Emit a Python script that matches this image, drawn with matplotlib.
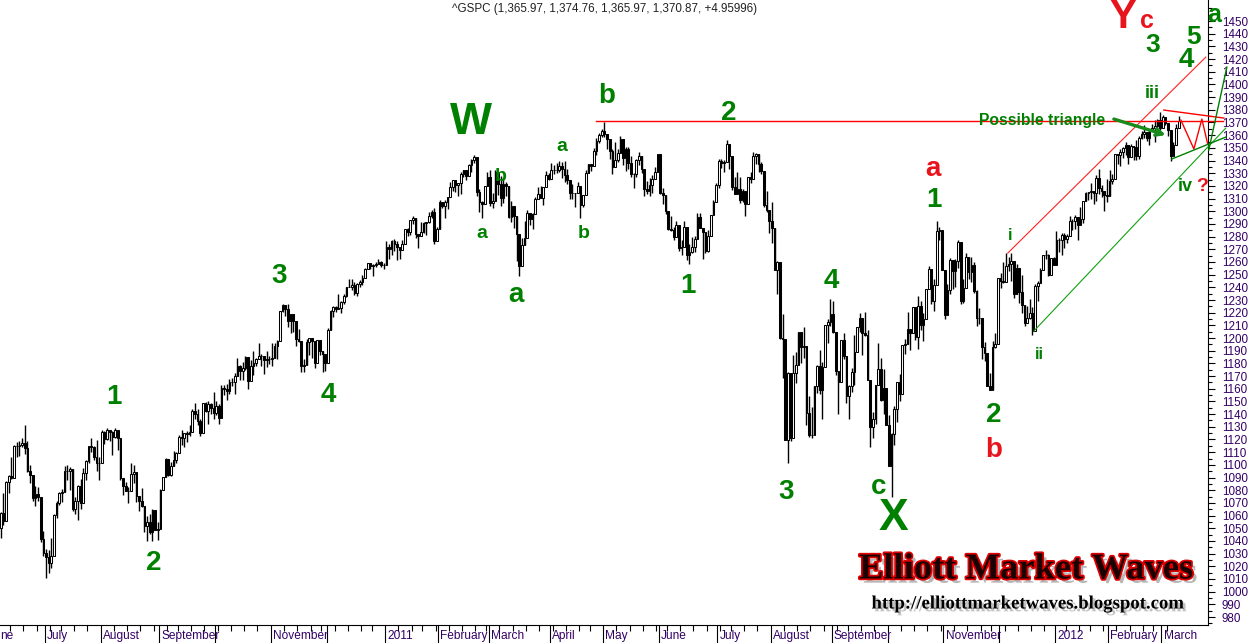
import matplotlib
matplotlib.use("Agg")
import matplotlib.pyplot as plt
import matplotlib.patheffects as pe
import matplotlib.transforms as mtransforms
import numpy as np
import pandas as pd

# ---------------- data: daily S&P 500 (^GSPC), (day, high, low, close) ----------------
first_open = 1050.47          # open of the first bar (previous close)
june_2010_days_before = 5     # trading days of June 2010 before the first bar

jun_2010 = [(8,1063.0,1042.2,1062.0),(9,1077.7,1052.3,1055.7),(10,1087.0,1058.0,1086.8),(11,1092.0,1077.6,1091.6),
            (14,1105.9,1089.0,1089.6),(15,1115.6,1089.6,1115.2),(16,1117.7,1105.9,1114.6),(17,1118.7,1107.1,1116.0),
            (18,1121.0,1113.9,1117.5),(21,1131.2,1108.2,1113.2),(22,1118.5,1094.2,1095.3),(23,1099.6,1085.3,1092.0),
            (24,1092.0,1071.7,1073.7),(25,1083.6,1067.9,1076.8),(28,1082.6,1071.5,1074.6),(29,1074.6,1038.9,1041.2),
            (30,1048.1,1028.3,1030.7)]
jul_2010 = [(1,1033.6,1010.9,1027.4),(2,1032.9,1015.0,1022.6),(6,1042.5,1018.4,1028.1),(7,1060.9,1028.3,1060.3),
            (8,1071.3,1058.2,1070.3),(9,1078.2,1068.0,1078.0),(12,1080.8,1070.5,1078.8),(13,1099.1,1078.8,1095.3),
            (14,1099.5,1087.7,1095.2),(15,1098.0,1080.5,1096.5),(16,1097.0,1063.6,1064.9),(19,1074.7,1061.1,1071.3),
            (20,1083.9,1056.9,1083.5),(21,1088.5,1065.3,1069.6),(22,1097.5,1069.6,1093.7),(23,1103.7,1087.9,1102.7),
            (26,1115.0,1101.2,1115.0),(27,1120.9,1109.8,1113.8),(28,1114.7,1103.9,1106.1),(29,1119.9,1095.2,1101.5),
            (30,1106.4,1088.0,1101.6)]
aug_2010 = [(2,1127.3,1101.6,1125.9),(3,1126.6,1116.1,1120.5),(4,1128.8,1119.5,1127.2),(5,1126.6,1118.8,1125.8),
            (6,1126.6,1107.4,1121.6),(9,1129.2,1120.9,1127.8),(10,1127.8,1111.6,1121.1),(11,1121.1,1088.0,1089.5),
            (12,1089.5,1076.6,1083.6),(13,1086.4,1079.0,1079.3),(16,1082.2,1069.6,1079.4),(17,1101.7,1079.4,1092.5),
            (18,1099.8,1085.8,1094.2),(19,1094.2,1070.4,1075.6),(20,1075.6,1063.9,1071.7),(23,1081.6,1067.1,1067.4),
            (24,1067.4,1046.7,1051.9),(25,1059.4,1039.8,1055.3),(26,1061.4,1045.4,1047.2),(27,1065.0,1039.7,1064.6),
            (30,1064.6,1048.8,1048.9),(31,1055.1,1040.9,1049.3)]
sep_2010 = [(1,1081.3,1049.3,1080.3),(2,1090.1,1080.0,1090.1),(3,1105.1,1090.1,1104.5),(7,1103.1,1091.0,1091.8),
            (8,1102.6,1091.2,1098.9),(9,1110.9,1098.9,1104.2),(10,1110.3,1101.2,1109.6),(13,1123.9,1109.6,1121.9),
            (14,1127.4,1115.6,1121.1),(15,1125.4,1113.7,1125.1),(16,1126.5,1118.0,1124.7),(17,1131.5,1122.4,1125.6),
            (20,1144.4,1125.6,1142.7),(21,1148.6,1136.2,1139.8),(22,1144.4,1131.6,1134.3),(23,1136.1,1122.8,1124.8),
            (24,1148.9,1124.8,1148.7),(27,1149.9,1142.0,1142.2),(28,1150.0,1132.1,1147.7),(29,1148.6,1140.3,1144.7),
            (30,1157.2,1136.1,1141.2)]
oct_2010 = [(1,1150.3,1139.4,1146.2),(4,1148.2,1131.9,1137.0),(5,1162.8,1137.0,1160.8),(6,1162.9,1154.9,1160.0),
            (7,1163.9,1151.4,1158.1),(8,1167.7,1155.6,1165.2),(11,1168.7,1162.0,1165.3),(12,1172.6,1155.7,1169.8),
            (13,1184.4,1171.3,1178.1),(14,1178.9,1166.7,1173.8),(15,1181.4,1167.1,1176.2),(18,1185.5,1174.6,1184.7),
            (19,1178.8,1159.7,1165.9),(20,1182.9,1166.7,1178.2),(21,1189.4,1171.2,1180.3),(22,1183.9,1178.3,1183.1),
            (25,1196.1,1184.7,1185.6),(26,1187.1,1177.7,1185.6),(27,1183.0,1171.7,1182.5),(28,1189.5,1177.1,1183.8),
            (29,1185.5,1179.7,1183.3)]
nov_2010 = [(1,1195.8,1177.7,1184.4),(2,1195.9,1184.4,1193.6),(3,1198.3,1183.6,1198.0),(4,1221.3,1198.3,1221.1),
            (5,1227.1,1220.3,1225.9),(8,1224.6,1217.4,1223.3),(9,1226.8,1208.9,1213.4),(10,1218.7,1204.3,1218.7),
            (11,1215.5,1204.5,1213.5),(12,1213.5,1194.1,1199.2),(15,1207.4,1197.2,1197.8),(16,1197.8,1173.0,1178.3),
            (17,1183.6,1173.3,1178.6),(18,1198.9,1178.6,1196.7),(19,1199.9,1186.3,1199.7),(22,1198.9,1184.6,1197.8),
            (23,1197.8,1176.0,1180.7),(24,1198.7,1180.7,1198.4),(26,1198.4,1186.7,1189.4),(29,1189.4,1173.6,1187.8),
            (30,1187.8,1174.1,1180.6)]
dec_2010 = [(1,1207.6,1180.6,1206.1),(2,1221.9,1206.1,1221.5),(3,1225.6,1216.8,1224.7),(6,1225.4,1220.7,1223.1),
            (7,1235.1,1223.3,1223.8),(8,1228.9,1219.5,1228.3),(9,1235.0,1226.8,1233.0),(10,1240.4,1232.6,1240.4),
            (13,1246.7,1240.3,1240.5),(14,1246.6,1238.2,1241.6),(15,1244.3,1234.0,1235.2),(16,1243.8,1232.9,1242.9),
            (17,1245.6,1239.9,1243.9),(20,1250.0,1241.5,1247.1),(21,1255.0,1247.1,1254.6),(22,1259.4,1254.6,1258.8),
            (23,1258.6,1254.1,1256.8),(27,1258.6,1248.8,1257.5),(28,1259.9,1256.2,1258.5),(29,1262.6,1258.5,1259.8),
            (30,1261.1,1256.3,1257.9),(31,1259.3,1254.2,1257.6)]
jan_2011 = [(3,1276.2,1257.6,1271.9),(4,1274.1,1262.7,1270.2),(5,1277.6,1265.4,1276.6),(6,1278.2,1268.7,1273.9),
            (7,1276.8,1261.7,1271.5),(10,1271.5,1262.2,1269.8),(11,1277.6,1269.8,1274.5),(12,1286.0,1274.5,1286.0),
            (13,1286.6,1280.5,1283.8),(14,1293.2,1281.1,1293.2),(18,1296.1,1290.2,1295.0),(19,1295.0,1278.7,1281.9),
            (20,1281.9,1271.3,1280.3),(21,1291.3,1280.3,1283.4),(24,1291.9,1282.5,1290.8),(25,1291.3,1281.1,1291.2),
            (26,1299.7,1291.0,1296.6),(27,1301.3,1294.4,1299.5),(28,1302.7,1274.0,1276.3),(31,1287.2,1276.3,1286.1)]
feb_2011 = [(1,1308.9,1286.1,1307.6),(2,1307.6,1302.6,1304.0),(3,1308.6,1294.8,1307.1),(4,1311.0,1301.7,1310.9),
            (7,1322.9,1311.0,1319.1),(8,1324.9,1316.0,1324.6),(9,1324.6,1314.9,1320.9),(10,1322.6,1311.7,1321.9),
            (11,1330.8,1313.6,1329.2),(14,1332.3,1326.9,1332.3),(15,1332.3,1324.6,1328.0),(16,1337.6,1328.0,1336.3),
            (17,1341.5,1331.0,1340.4),(18,1344.1,1338.1,1343.0),(22,1338.9,1312.3,1315.4),(23,1317.9,1299.6,1307.4),
            (24,1308.3,1294.3,1306.1),(25,1320.0,1306.1,1319.9),(28,1330.8,1320.0,1327.2)]
mar_2011 = [(1,1332.3,1304.2,1306.3),(2,1314.4,1302.6,1308.4),(3,1332.3,1308.4,1331.0),(4,1331.0,1312.6,1321.2),
            (7,1327.7,1303.9,1310.1),(8,1325.7,1306.9,1321.8),(9,1323.2,1312.3,1320.0),(10,1320.0,1294.7,1295.1),
            (11,1308.4,1291.9,1304.3),(14,1301.0,1286.6,1296.4),(15,1296.4,1261.1,1281.9),(16,1280.9,1249.1,1256.9),
            (17,1278.6,1256.9,1273.7),(18,1292.5,1273.7,1279.2),(21,1300.6,1279.2,1298.4),(22,1299.0,1289.2,1293.8),
            (23,1298.4,1285.7,1297.5),(24,1311.3,1297.5,1309.7),(25,1319.2,1310.2,1313.8),(28,1319.7,1310.2,1310.2),
            (29,1319.4,1305.3,1319.4),(30,1331.7,1319.4,1328.3),(31,1329.8,1325.0,1325.8)]
apr_2011 = [(1,1337.9,1328.9,1332.4),(4,1336.7,1329.1,1332.9),(5,1338.2,1330.0,1332.6),(6,1339.5,1330.7,1335.5),
            (7,1338.8,1326.6,1333.5),(8,1339.5,1322.9,1328.2),(11,1333.2,1321.1,1324.5),(12,1324.5,1309.7,1314.2),
            (13,1321.4,1309.5,1314.4),(14,1314.5,1303.0,1314.5),(15,1323.0,1314.4,1319.7),(18,1319.7,1294.7,1305.1),
            (19,1312.7,1303.0,1312.6),(20,1332.8,1312.6,1330.4),(21,1337.5,1330.4,1337.4),(25,1337.4,1331.8,1335.3),
            (26,1349.5,1335.3,1347.2),(27,1357.5,1344.0,1355.7),(28,1361.7,1353.6,1360.5),(29,1364.6,1358.7,1363.6)]
may_2011 = [(2,1370.6,1358.6,1361.2),(3,1361.2,1348.8,1356.6),(4,1356.6,1341.5,1347.3),(5,1348.7,1329.2,1335.1),
            (6,1354.4,1335.1,1340.2),(9,1349.4,1338.6,1346.3),(10,1359.4,1346.3,1357.2),(11,1357.2,1336.4,1342.1),
            (12,1351.0,1332.0,1348.7),(13,1350.5,1333.4,1337.8),(16,1343.3,1327.3,1329.5),(17,1330.4,1318.5,1329.0),
            (18,1341.3,1326.7,1340.7),(19,1346.8,1336.7,1343.6),(20,1342.9,1330.5,1333.3),(23,1333.3,1311.8,1317.4),
            (24,1323.7,1313.9,1316.3),(25,1325.9,1311.8,1320.5),(26,1328.5,1314.4,1325.7),(27,1334.6,1325.7,1331.1),
            (31,1345.2,1331.1,1345.2)]
jun_2011 = [(1,1345.2,1313.7,1314.6),(2,1318.0,1305.6,1312.9),(3,1312.9,1297.9,1300.2),(6,1300.2,1284.9,1286.2),
            (7,1296.2,1284.7,1284.9),(8,1287.9,1277.0,1279.6),(9,1292.5,1279.6,1289.0),(10,1289.0,1268.3,1271.0),
            (13,1277.3,1265.6,1271.8),(14,1292.5,1271.8,1287.9),(15,1287.9,1261.9,1265.4),(16,1274.1,1258.1,1267.6),
            (17,1279.8,1267.4,1271.5),(20,1280.4,1267.6,1278.4),(21,1298.6,1278.4,1295.5),(22,1298.6,1286.8,1287.1),
            (23,1287.1,1262.7,1283.5),(24,1283.5,1267.2,1268.5),(27,1284.9,1267.5,1280.1),(28,1296.8,1280.1,1296.7),
            (29,1309.2,1296.7,1307.4),(30,1322.0,1307.6,1320.6)]
jul_2011 = [(1,1341.0,1318.2,1339.7),(5,1340.9,1334.3,1337.9),(6,1340.5,1330.9,1339.2),(7,1356.5,1339.6,1353.2),
            (8,1353.2,1333.2,1343.8),(11,1343.8,1316.4,1319.5),(12,1327.2,1313.3,1313.6),(13,1331.1,1313.6,1317.7),
            (14,1326.7,1306.5,1308.9),(15,1317.7,1307.4,1316.1),(18,1316.1,1295.9,1305.4),(19,1327.2,1305.4,1326.7),
            (20,1330.9,1322.1,1325.8),(21,1347.0,1325.8,1343.8),(22,1346.1,1336.9,1345.0),(25,1344.8,1331.1,1337.4),
            (26,1338.5,1329.6,1331.9),(27,1331.9,1303.5,1304.9),(28,1316.3,1299.2,1300.7),(29,1300.7,1282.9,1292.3)]
aug_2011 = [(1,1307.4,1274.7,1286.9),(2,1286.9,1254.0,1254.0),(3,1261.0,1234.6,1260.3),(4,1260.3,1199.5,1200.1),
            (5,1218.9,1168.1,1199.4),(8,1199.4,1119.3,1119.5),(9,1172.9,1101.5,1172.5),(10,1172.5,1118.6,1120.8),
            (11,1186.3,1121.1,1172.6),(12,1189.0,1164.2,1178.8),(15,1204.5,1178.8,1204.5),(16,1204.5,1180.5,1192.8),
            (17,1208.5,1184.4,1193.9),(18,1193.9,1131.3,1140.7),(19,1154.5,1122.1,1123.5),(22,1145.5,1121.1,1123.8),
            (23,1162.4,1123.8,1162.4),(24,1178.5,1156.3,1177.6),(25,1190.7,1155.5,1159.3),(26,1181.2,1135.9,1176.8),
            (29,1210.3,1176.8,1210.1),(30,1215.4,1195.8,1212.9),(31,1230.7,1209.4,1218.9)]
sep_2011 = [(1,1229.3,1203.9,1204.4),(2,1204.4,1170.6,1174.0),(6,1174.0,1140.1,1165.2),(7,1198.6,1165.2,1198.6),
            (8,1204.2,1183.3,1185.9),(9,1185.9,1148.4,1154.2),(12,1162.6,1136.1,1162.3),(13,1176.4,1157.4,1172.9),
            (14,1202.4,1162.7,1188.7),(15,1209.1,1189.0,1209.1),(16,1220.1,1204.5,1216.0),(19,1216.0,1186.3,1204.1),
            (20,1220.4,1201.3,1202.1),(21,1206.3,1166.8,1166.8),(22,1166.8,1114.2,1129.6),(23,1141.7,1121.4,1136.4),
            (26,1163.0,1131.9,1163.0),(27,1195.9,1163.3,1175.4),(28,1184.4,1150.3,1151.1),(29,1175.4,1139.9,1160.4),
            (30,1160.4,1131.3,1131.4)]
oct_2011 = [(3,1139.0,1098.9,1099.2),(4,1125.1,1074.8,1124.0),(5,1146.1,1115.7,1144.0),(6,1165.0,1134.0,1165.0),
            (7,1171.4,1150.3,1155.5),(10,1194.9,1158.7,1194.9),(11,1199.4,1187.3,1195.5),(12,1220.3,1196.6,1207.3),
            (13,1207.3,1190.6,1203.7),(14,1224.6,1205.4,1224.6),(17,1224.6,1198.6,1200.9),(18,1233.1,1191.5,1225.4),
            (19,1229.4,1206.3,1209.9),(20,1219.4,1197.3,1215.4),(21,1239.0,1215.6,1238.3),(24,1256.6,1238.3,1254.2),
            (25,1254.2,1226.8,1229.1),(26,1246.3,1221.1,1242.0),(27,1292.7,1242.0,1284.6),(28,1287.8,1277.0,1285.1),
            (31,1285.1,1253.3,1253.3)]
nov_2011 = [(1,1253.3,1215.4,1218.3),(2,1242.5,1218.3,1237.9),(3,1263.2,1234.8,1261.2),(4,1260.8,1238.9,1253.2),
            (7,1262.0,1240.3,1261.1),(8,1277.6,1254.9,1275.9),(9,1275.9,1226.6,1229.1),(10,1246.3,1227.7,1239.7),
            (11,1267.0,1239.7,1263.9),(14,1263.9,1246.7,1251.8),(15,1264.3,1244.3,1257.8),(16,1259.6,1235.7,1236.9),
            (17,1237.7,1209.4,1216.1),(18,1223.5,1211.4,1215.7),(21,1215.7,1183.2,1193.0),(22,1196.8,1181.7,1188.0),
            (23,1188.0,1161.8,1161.8),(25,1172.7,1158.7,1158.7),(28,1197.4,1158.7,1192.6),(29,1203.7,1191.8,1195.2),
            (30,1247.1,1196.7,1247.0)]
dec_2011 = [(1,1251.1,1239.7,1244.6),(2,1260.1,1243.4,1244.3),(5,1266.7,1244.3,1257.1),(6,1264.0,1253.0,1258.5),
            (7,1267.1,1244.8,1261.0),(8,1260.9,1231.5,1234.4),(9,1258.3,1234.4,1255.2),(12,1255.2,1227.3,1236.5),
            (13,1249.9,1219.4,1225.7),(14,1225.7,1209.5,1211.8),(15,1225.6,1212.0,1215.8),(16,1231.0,1215.2,1219.7),
            (19,1224.6,1202.4,1205.4),(20,1242.8,1205.4,1241.3),(21,1245.1,1229.5,1243.7),(22,1255.2,1243.7,1254.0),
            (23,1265.4,1254.0,1265.3),(27,1269.4,1262.3,1265.4),(28,1265.9,1248.6,1249.6),(29,1263.5,1249.6,1263.0),
            (30,1264.1,1257.5,1257.6)]
jan_2012 = [(3,1284.6,1257.6,1277.1),(4,1278.7,1268.1,1277.3),(5,1283.1,1265.3,1281.1),(6,1283.2,1271.0,1277.8),
            (9,1282.0,1274.6,1280.7),(10,1296.5,1280.7,1292.1),(11,1293.8,1285.4,1292.5),(12,1296.8,1285.8,1295.5),
            (13,1295.5,1277.6,1289.1),(17,1303.0,1289.1,1293.7),(18,1308.1,1291.0,1308.0),(19,1315.5,1308.0,1314.5),
            (20,1315.4,1309.2,1315.4),(23,1322.3,1309.9,1316.0),(24,1316.0,1306.1,1314.7),(25,1328.3,1307.7,1326.1),
            (26,1333.5,1313.6,1318.4),(27,1320.5,1311.0,1316.3),(30,1316.3,1300.5,1313.0),(31,1325.6,1307.0,1312.4)]
feb_2012 = [(1,1332.8,1312.4,1324.1),(2,1329.2,1321.6,1325.5),(3,1345.3,1325.5,1344.9),(6,1344.9,1337.5,1344.3),
            (7,1349.2,1335.9,1347.1),(8,1351.0,1341.9,1350.0),(9,1354.3,1344.6,1352.0),(10,1352.0,1337.4,1342.6),
            (13,1353.4,1342.6,1351.8),(14,1351.8,1340.8,1350.5),(15,1355.9,1340.8,1343.2),(16,1359.0,1341.2,1358.0),
            (17,1363.4,1357.2,1361.2),(21,1367.8,1358.1,1362.2),(22,1362.2,1355.5,1357.7),(23,1364.2,1352.3,1363.5),
            (24,1368.9,1363.5,1365.7),(27,1371.9,1354.9,1367.6),(28,1373.1,1366.0,1372.2),(29,1378.0,1363.8,1365.7)]
mar_2012 = [(1,1376.2,1365.7,1374.1),(2,1374.5,1368.1,1369.6),(5,1369.6,1359.1,1364.3),(6,1364.3,1340.0,1343.4),
            (7,1354.9,1343.4,1352.6),(8,1368.7,1352.6,1365.9),(9,1374.8,1366.0,1370.9)]

months = [(2010, 6, jun_2010), (2010, 7, jul_2010), (2010, 8, aug_2010), (2010, 9, sep_2010),
          (2010, 10, oct_2010), (2010, 11, nov_2010), (2010, 12, dec_2010), (2011, 1, jan_2011),
          (2011, 2, feb_2011), (2011, 3, mar_2011), (2011, 4, apr_2011), (2011, 5, may_2011),
          (2011, 6, jun_2011), (2011, 7, jul_2011), (2011, 8, aug_2011), (2011, 9, sep_2011),
          (2011, 10, oct_2011), (2011, 11, nov_2011), (2011, 12, dec_2011), (2012, 1, jan_2012),
          (2012, 2, feb_2012), (2012, 3, mar_2012)]

month_names = {1: None, 2: "February", 3: "March", 4: "April", 5: "May", 6: "June", 7: "July",
               8: "August", 9: "September", 10: "", 11: "November", 12: ""}
first_label_visible = "ne"    # the June 2010 label is cut by the left edge in the reference

header = "^GSPC (1,365.97, 1,374.76, 1,365.97, 1,370.87, +4.95996)"

G = "#008000"
R = "#e8141c"
# wave labels: (text, bar index, price, colour, size)
wave_labels = [
    ("1", 42.5, 1153.5, G, 20), ("2", 57.5, 1022.6, G, 20), ("3", 104.5, 1248.9, G, 20),
    ("4", 123.0, 1155.0, G, 20), ("W", 176.8, 1370.3, G, 32), ("b", 188.0, 1327.5, G, 14),
    ("a", 180.9, 1282.8, G, 14), ("a", 193.7, 1233.9, G, 20), ("a", 211.0, 1351.4, G, 14),
    ("b", 219.3, 1282.8, G, 14), ("b", 227.9, 1390.9, G, 20), ("2", 273.8, 1377.4, G, 20),
    ("1", 258.4, 1241.0, G, 20), ("3", 295.2, 1078.5, G, 20), ("4", 312.5, 1245.0, G, 20),
    ("c", 330.2, 1082.5, G, 20), ("X", 335.8, 1058.0, G, 32), ("a", 350.5, 1333.3, R, 20),
    ("1", 350.9, 1308.8, G, 20), ("i", 379.5, 1281.2, G, 12), ("ii", 390.7, 1187.4, G, 12),
    ("2", 373.4, 1139.3, G, 20), ("b", 373.4, 1111.7, R, 20), ("iii", 433.2, 1393.2, G, 13),
    ("3", 433.2, 1431.1, G, 19), ("4", 446.0, 1419.2, G, 20), ("5", 448.7, 1437.4, G, 19),
    ("Y", 422.0, 1452.8, R, 29), ("c", 431.0, 1450.0, R, 18), ("a", 456.5, 1455.0, G, 18),
    ("iv", 445.3, 1319.9, G, 13), ("?", 451.7, 1319.9, R, 14),
]

# drawn lines: list of (bar index, price) vertices
hline_level = [(223.8, 1371.5), (459.6, 1371.5)]
red_channel = [(378.7, 1267.0), (453.2, 1421.6)]
green_channel = [(388.5, 1205.5), (460.7, 1365.6)]
tri_top = [(437.4, 1379.8), (460.0, 1373.5)]
tri_bottom = [(440.4, 1341.2), (460.7, 1358.5)]
tri_zigzag = [(443.8, 1371.9), (448.7, 1349.1), (451.7, 1372.7), (453.9, 1353.0)]
thrust = [(454.3, 1348.3), (461.1, 1413.7)]
arrow_from = (418.6, 1372.7)
arrow_to = (438.1, 1360.1)

# ---------------- assemble ----------------
dates, highs, lows, closes = [], [], [], []
for yr, mo, rows in months:
    for d, h, l, c in rows:
        dates.append(pd.Timestamp(yr, mo, d))
        highs.append(h); lows.append(l); closes.append(c)
highs = np.array(highs); lows = np.array(lows); closes = np.array(closes)
opens = np.concatenate([[first_open], closes[:-1]])
idx = np.arange(len(closes))

W, H = 1250, 643
fig = plt.figure(figsize=(W / 100, H / 100), dpi=100)
fig.patch.set_facecolor("white")
ax = fig.add_axes([0, 18 / H, 1208 / W, 625 / H])
ax.set_xlim(-0.3, -0.3 + 1208 / 2.659)
ax.set_ylim(973.7, 1466.6)

# candles
up = closes >= opens
wlo = np.minimum(lows, np.minimum(opens, closes))
whi = np.maximum(highs, np.maximum(opens, closes))
ax.vlines(idx, wlo, whi, color="black", lw=1.0, zorder=2)
ax.bar(idx, np.abs(closes - opens), bottom=np.minimum(opens, closes), width=0.62,
       color=np.where(up, "white", "black"), edgecolor="black", linewidth=0.75, zorder=3)

# lines
def pl(pts, **kw):
    xs, ys = zip(*pts)
    ax.plot(xs, ys, clip_on=False, zorder=4, **kw)

pl(hline_level, color="#ff0000", lw=1.0)
pl(red_channel, color="#ff2020", lw=0.8)
pl(green_channel, color="#10a010", lw=0.8)
pl(tri_top, color="#ff0000", lw=1.0)
pl(tri_zigzag, color="#ff0000", lw=1.0)
pl(tri_bottom, color="#008000", lw=1.0)
pl(thrust, color="#008000", lw=1.0)

ax.annotate("", xy=arrow_to, xytext=arrow_from,
            arrowprops=dict(arrowstyle="->", color="#1a8a1a", lw=2.4, mutation_scale=12,
                            shrinkA=0, shrinkB=0), zorder=5)

ff = ["Liberation Sans", "DejaVu Sans"]
for t, x, y, c, s in wave_labels:
    ax.text(x, y, t, color=c, fontsize=s, fontweight="bold", family=ff,
            ha="center", va="center", zorder=6, clip_on=False)
ax.text(367.8, 1371.9, "Possible triangle", color=G, fontsize=11.3, fontweight="bold",
        family=ff, ha="left", va="center", zorder=6)

# axes styling
for s in ("top", "left"):
    ax.spines[s].set_visible(False)
ax.spines["right"].set_color("black")
ax.spines["bottom"].set_color("black")
ax.yaxis.tick_right()
lab_col = "#330066"
ax.set_yticks(np.arange(980, 1451, 10))
ax.set_yticks(np.arange(975, 1461, 5), minor=True)
ax.tick_params(axis="y", which="major", direction="out", length=5, width=0.8, pad=5.0,
               labelsize=8.4, labelcolor=lab_col)
ax.tick_params(axis="y", which="minor", direction="out", length=3, width=0.8)
for lbl in ax.get_yticklabels():
    lbl.set_family(ff)

# x axis: month separators and weekly minor ticks
seps, sep_months, weeks = [-june_2010_days_before - 0.5], [(2010, 6)], []
for i in range(1, len(dates)):
    if dates[i].month != dates[i - 1].month:
        seps.append(i - 0.5); sep_months.append((dates[i].year, dates[i].month))
    elif dates[i].weekday() < dates[i - 1].weekday():
        weeks.append(i - 0.5)
ax.set_xticks([s for s in seps if s > -0.3])
ax.set_xticks(weeks, minor=True)
ax.set_xticklabels([])
ax.tick_params(axis="x", which="major", direction="out", length=13, width=0.8)
ax.tick_params(axis="x", which="minor", direction="out", length=4, width=0.8)
trans = mtransforms.blended_transform_factory(ax.transData, ax.transAxes)
for s, (yr, mo) in zip(seps, sep_months):
    name = month_names[mo]
    if name is None:
        name = str(yr)
    if not name:
        continue
    if s < -0.3:
        fig.text(0.5 / W, 1 - 636 / H, first_label_visible, fontsize=8.6, color=lab_col,
                 family=ff, ha="left", va="center")
    else:
        ax.text(s + 0.8, -11 / 625, name, transform=trans, fontsize=8.6, color=lab_col,
                family=ff, ha="left", va="center", clip_on=False)

# header
fig.text(452 / W, 1 - 9 / H, header, fontsize=8.4, color="#222222", family=ff, ha="left", va="center")

# watermark
fig.text(1026 / W, 1 - 569 / H, "Elliott Market Waves", fontsize=26.3, fontweight="bold",
         family=["Liberation Serif", "DejaVu Serif"], color="#1a0000", ha="center", va="center",
         path_effects=[pe.SimplePatchShadow(offset=(3, -3), shadow_rgbFace="#888888", alpha=0.6),
                       pe.Stroke(linewidth=2.5, foreground="#dd0000"), pe.Normal()])
fig.text(1028 / W, 1 - 604 / H, "http://elliottmarketwaves.blogspot.com", fontsize=13.5, fontweight="bold",
         family=["Liberation Serif", "DejaVu Serif"], color="black", ha="center", va="center",
         path_effects=[pe.SimplePatchShadow(offset=(2, -2), shadow_rgbFace="#999999", alpha=0.6), pe.Normal()])

fig.savefig("out.png", dpi=100, facecolor="white")
